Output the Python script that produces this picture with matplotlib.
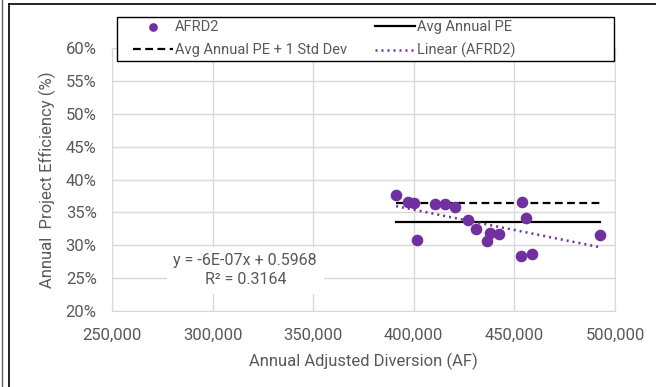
import numpy as np
import matplotlib
matplotlib.use("Agg")
import matplotlib.pyplot as plt
from matplotlib.lines import Line2D
from matplotlib.patches import Rectangle
from matplotlib.ticker import FuncFormatter

plt.rcParams['font.family'] = ['Roboto', 'DejaVu Sans']

# annual adjusted diversion (AF) and project efficiency
diversion = [391200, 397300, 400200, 401400, 410400, 415700, 420600, 427100,
             431100, 437700, 436200, 442500, 453600, 455900, 453300, 458600,
             492500]
efficiency = [0.376, 0.366, 0.364, 0.308, 0.362, 0.362, 0.358, 0.338,
              0.324, 0.319, 0.306, 0.317, 0.366, 0.342, 0.284, 0.287,
              0.316]
avg_pe = 0.335
avg_pe_std = 0.364

x_ticks = [250000, 300000, 350000, 400000, 450000, 500000]
y_ticks = [0.20, 0.25, 0.30, 0.35, 0.40, 0.45, 0.50, 0.55, 0.60]

purple = '#7030A0'
txt = '#595959'

W, H = 656, 387
fig = plt.figure(figsize=(W / 100, H / 100), dpi=100)
ax = fig.add_axes([112 / W, 1 - 311 / H, (615 - 112) / W, (311 - 48) / H])

x = np.array(diversion)
y = np.array(efficiency)
xr = [x.min(), x.max()]

h_pts = ax.scatter(x, y, s=70, color=purple, zorder=4, label='AFRD2', linewidths=0)
h_avg, = ax.plot(xr, [avg_pe, avg_pe], color='black', lw=1.6, zorder=3,
                 label='Avg Annual PE')
h_std, = ax.plot(xr, [avg_pe_std, avg_pe_std], color='black', lw=1.6,
                 ls=(0, (3.5, 2)), zorder=3, label='Avg Annual PE + 1 Std Dev')
k, b = np.polyfit(x, y, 1)
h_lin, = ax.plot(xr, np.polyval([k, b], xr), color=purple, lw=1.8,
                 ls=(0, (0.8, 1.6)), zorder=3, label='Linear (AFRD2)')

ax.set_xlim(250000, 500000)
ax.set_ylim(0.20, 0.60)
ax.set_xticks(x_ticks)
ax.set_yticks(y_ticks)
ax.xaxis.set_major_formatter(FuncFormatter(lambda v, p: f'{int(v):,}'))
ax.yaxis.set_major_formatter(FuncFormatter(lambda v, p: f'{v * 100:.0f}%'))
ax.tick_params(length=0, labelsize=12, colors=txt)
ax.tick_params(axis='x', pad=12)
ax.tick_params(axis='y', pad=11)
ax.grid(color='#D9D9D9', lw=1)
ax.set_axisbelow(True)
for s in ax.spines.values():
    s.set_color('#D9D9D9')

ax.set_xlabel('Annual Adjusted Diversion (AF)', fontsize=12, color=txt, labelpad=7)
ax.set_ylabel('Annual  Project Efficiency (%)', fontsize=12, color=txt, labelpad=7)

ax.text(0.265, 0.155, 'y = -6E-07x + 0.5968\nR² = 0.3164', transform=ax.transAxes,
        ha='center', va='center', fontsize=11.5, color=txt, linespacing=1.3,
        bbox=dict(facecolor='white', edgecolor='none', pad=5), zorder=5)

# legend frame drawn separately so the two columns can sit like the original
fig.add_artist(Rectangle((117 / W, 1 - 60.7 / H), (614 - 117) / W, 44.2 / H,
                         transform=fig.transFigure, facecolor='white',
                         edgecolor='black', lw=1.0, zorder=5))
handles = [h_pts, h_std, h_avg, h_lin]
leg = fig.legend(handles, [h.get_label() for h in handles], loc='upper left',
                 bbox_to_anchor=(133 / W, 1 - 20 / H), ncol=2, frameon=False,
                 fontsize=10.5, handlelength=2.75, handletextpad=0.15,
                 borderpad=0, labelspacing=0.6, borderaxespad=0,
                 columnspacing=1.9, markerscale=0.75)
leg.set_zorder(6)
for t in leg.get_texts():
    t.set_color(txt)

# chart border lines
fig.add_artist(Line2D([9 / W, 9 / W], [0, 1 - 3.5 / H], color='black', lw=1.2))
fig.add_artist(Line2D([9 / W, 1], [1 - 3.5 / H, 1 - 3.5 / H], color='black', lw=1.2))
fig.add_artist(Line2D([1.5 / W, 1.5 / W], [0, 1], color='#606060', lw=1.0))

fig.savefig('out.png', dpi=100)
